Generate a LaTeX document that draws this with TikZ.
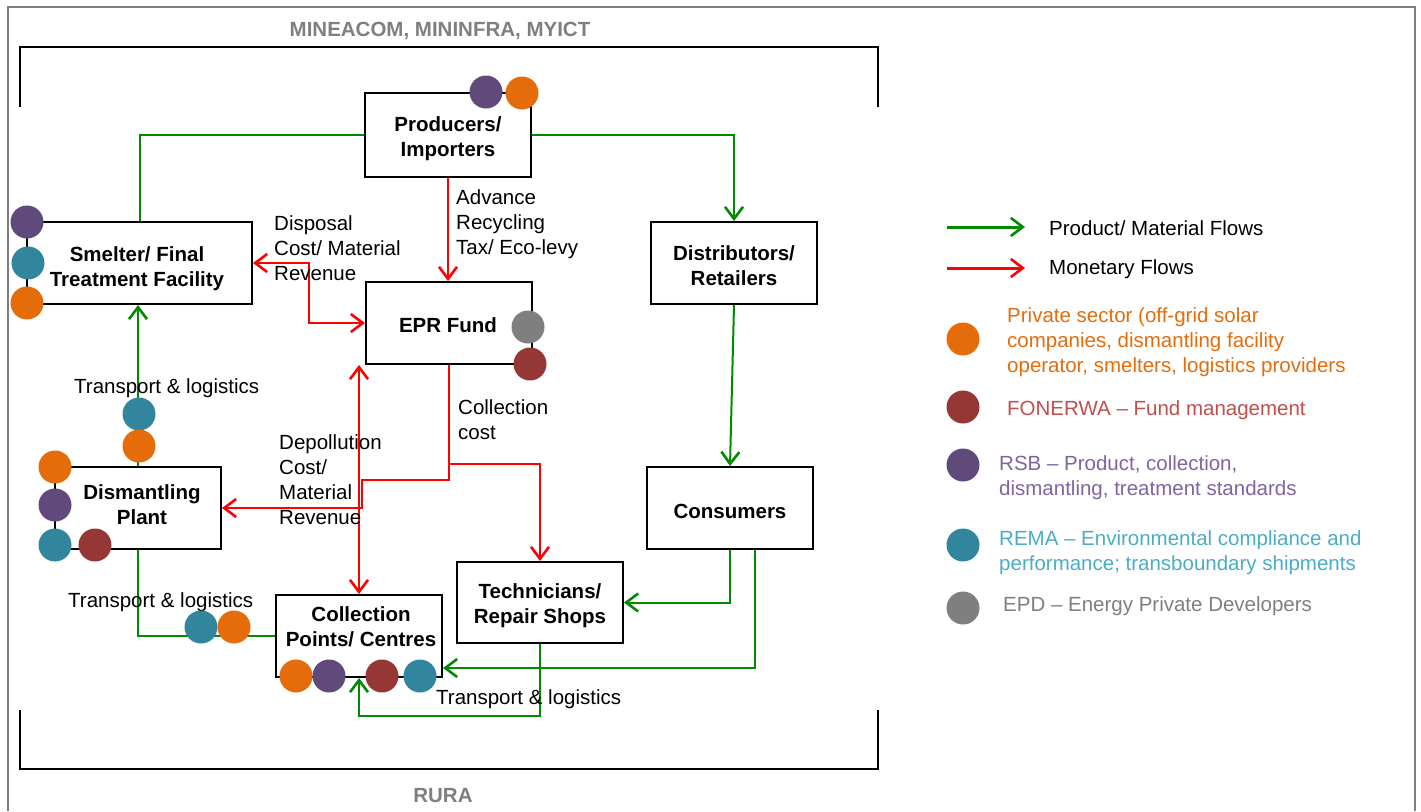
\documentclass[tikz,border=0pt]{standalone}
\usepackage{fontspec}
\setmainfont{Liberation Sans}
\usetikzlibrary{arrows.meta}
\definecolor{cOr}{HTML}{E46C0A}
\definecolor{cBr}{HTML}{953735}
\definecolor{cPu}{HTML}{604A7B}
\definecolor{cTe}{HTML}{31859C}
\definecolor{cGy}{HTML}{7F7F7F}
\definecolor{cGr}{HTML}{008A00}
\definecolor{cRd}{HTML}{FF0000}
\definecolor{tBr}{HTML}{C0504D}
\definecolor{tPu}{HTML}{8064A2}
\definecolor{tTe}{HTML}{4BACC6}
\begin{document}
\begin{tikzpicture}[x=1pt,y=-1pt,
  ebox/.style={draw=black,line width=2pt,fill=white,inner sep=0pt,
    minimum width=166pt,minimum height=82pt},
  btxt/.style={inner sep=0pt,align=center,font=\fontsize{20.5}{25}\selectfont\bfseries},
  blob/.style={circle,inner sep=0pt,minimum size=33pt,fill=#1},
  gflow/.style={draw=cGr,line width=2pt},
  rflow/.style={draw=cRd,line width=2pt},
  lbl/.style={inner sep=0pt,align=left,anchor=west,font=\fontsize{20.5}{25}\selectfont},
  ttl/.style={inner sep=0pt,text=cGy,font=\fontsize{20.5}{25}\selectfont\bfseries},
  >={Straight Barb[length=12pt,width=18pt,line width=2.6pt]}
]
\useasboundingbox (0,0) rectangle (1421,811);
% outer frame
\draw[cGy,line width=2pt] (8,811) -- (8,7) -- (1415,7) -- (1415,811);
% brackets
\draw[line width=2pt] (20,107) -- (20,47) -- (878,47) -- (878,107);
\draw[line width=2pt] (20,710) -- (20,769) -- (878,769) -- (878,710);
\node[ttl] (hdr) at (440,31) {MINEACOM, MININFRA, MYICT};
\node[ttl] (rura) at (443,796) {RURA};

% boxes
\node[ebox,minimum height=84pt] (prod) at (448,135) {};
\node[ebox,minimum width=225pt] (smelt) at (139.5,263) {};
\node[ebox] (epr) at (449,323) {};
\node[ebox] (dist) at (734,263) {};
\node[ebox] (cons) at (730,508) {};
\node[ebox] (dism) at (138,508) {};
\node[ebox] (coll) at (359,636) {};
\node[ebox,minimum height=81pt] (tech) at (540,602.5) {};
% box texts
\node[btxt] (prodtxt) at (448,138.5) {Producers/\\Importers};
\node[btxt] (smelttxt) at (137,268.5) {Smelter/ Final\\Treatment Facility};
\node[btxt] (eprtxt) at (448,325) {EPR Fund};
\node[btxt] (disttxt) at (734,266) {Distributors/\\Retailers};
\node[btxt] (constxt) at (730,511) {Consumers};
\node[btxt] (dismtxt) at (142,504.5) {Dismantling\\Plant};
\node[btxt] (colltxt) at (361,627) {Collection\\Points/ Centres};
\node[btxt] (techtxt) at (540,606) {Technicians/\\Repair Shops};

% green flows
\draw[gflow] (prod.west) -| (smelt.north);
\draw[gflow,->] (prod.east) -| (dist.north);
\draw[gflow,->] (dist.south) -- (cons.north);
\draw[gflow,->] (cons.south) |- (tech.east);
\draw[gflow,->] ([xshift=25pt]cons.south) |- ([yshift=-32pt]coll.east);
\draw[gflow,->] (tech.south) -- ++(0,72) -| (coll.south);
\draw[gflow,->] (dism.north) -- (dism.north |- smelt.south);
\draw[gflow] (dism.south) |- (coll.west);

% red flows
\draw[rflow,->] (prod.south) -- (prod.south |- epr.north);
\draw[rflow,<->] (smelt.east) -- ++(56,0) |- (epr.west);
\draw[rflow,<->] (coll.north |- epr.south) -- (coll.north);
\draw[rflow,->] (epr.south) -- ++(0,99) -| (tech.north);
\draw[rflow,->] (epr.south) -- ++(0,115) -- ++(-87,0) |- (dism.east);

% labels
\node[lbl] (lab1) at (274,248) {Disposal\\Cost/ Material\\Revenue};
\node[lbl] (lab2) at (456,224) {Advance\\Recycling\\Tax/ Eco-levy};
\node[lbl] (lab3) at (74,388) {Transport \& logistics};
\node[lbl] (lab4) at (458,420) {Collection\\cost};
\node[lbl] (lab5) at (279,480) {Depollution\\Cost/\\Material\\Revenue};
\node[lbl] (lab6) at (68,602) {Transport \& logistics};
\node[lbl] (lab7) at (436,699) {Transport \& logistics};

% circles
\node[blob=cPu] (p1) at (486,92) {};
\node[blob=cOr] (p2) at (522,93) {};
\node[blob=cPu] (s1) at (27,222) {};
\node[blob=cTe] (s2) at (28,263) {};
\node[blob=cOr] (s3) at (27,303) {};
\node[blob=cTe] (t1) at (139,414) {};
\node[blob=cOr] (t2) at (139,446) {};
\node[blob=cOr] (d1) at (55,467) {};
\node[blob=cPu] (d2) at (55,505) {};
\node[blob=cTe] (d3) at (55,545) {};
\node[blob=cBr] (d4) at (95,545) {};
\node[blob=cGy] (e1) at (528,327) {};
\node[blob=cBr] (e2) at (530,364) {};
\node[blob=cTe] (u1) at (201,627) {};
\node[blob=cOr] (u2) at (234,627) {};
\node[blob=cOr] (c1) at (296,676) {};
\node[blob=cPu] (c2) at (329,676) {};
\node[blob=cBr] (c3) at (382,676) {};
\node[blob=cTe] (c4) at (420,676) {};

% legend
\coordinate (g0) at (947,227);
\coordinate (g1) at (1025,227);
\coordinate (r0) at (947,268);
\coordinate (r1) at (1025,268);
\draw[gflow,line width=3pt,->] (g0) -- (g1);
\draw[rflow,line width=3pt,->] (r0) -- (r1);
\node[lbl] (lg1) at (1049,228) {Product/ Material Flows};
\node[lbl] (lg2) at (1049,269) {Monetary Flows};
\node[blob=cOr] (l1) at (963,339) {};
\node[blob=cBr] (l2) at (963,407) {};
\node[blob=cPu] (l3) at (963,465) {};
\node[blob=cTe] (l4) at (963,545) {};
\node[blob=cGy] (l5) at (963,608) {};
\node[lbl,text=cOr] (lt1) at (1007,342) {Private sector (off-grid solar\\companies, dismantling facility\\operator, smelters, logistics providers};
\node[lbl,text=tBr] (lt2) at (1007,410) {FONERWA -- Fund management};
\node[lbl,text=tPu] (lt3) at (999,478) {RSB -- Product, collection,\\dismantling, treatment standards};
\node[lbl,text=tTe] (lt4) at (999,553) {REMA -- Environmental compliance and\\performance; transboundary shipments};
\node[lbl,text=cGy] (lt5) at (1003,606) {EPD -- Energy Private Developers};
\end{tikzpicture}
\end{document}
